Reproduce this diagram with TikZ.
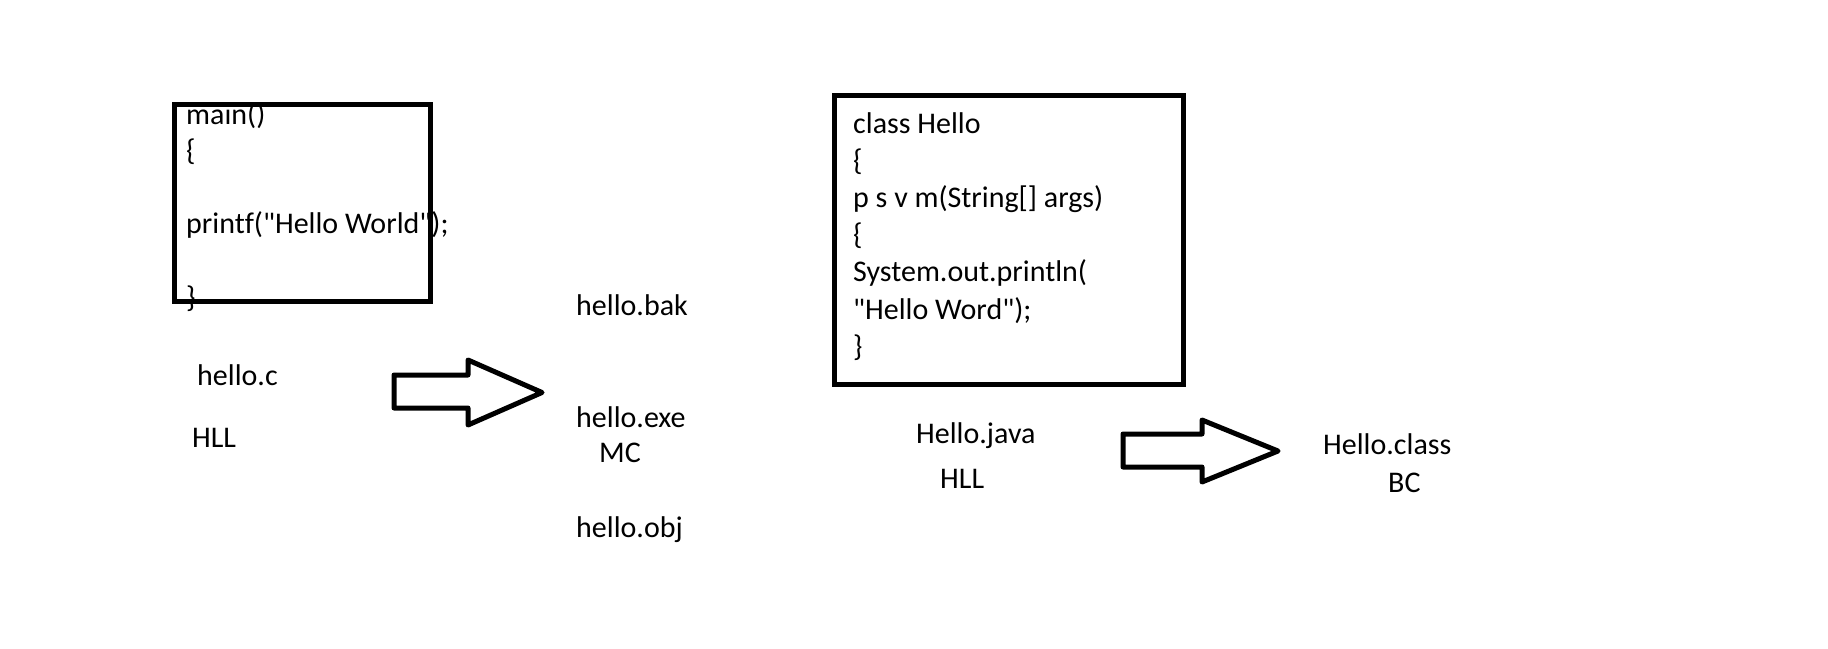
\documentclass[tikz,border=0pt]{standalone}
\usepackage{fontspec}
\setmainfont{Carlito}[Ligatures={TeXOff,CommonOff}]
\begin{document}
\begin{tikzpicture}[x=1pt,y=-1pt,
  txt/.style={anchor=base west,inner sep=0pt,font=\fontsize{30}{36}\selectfont},
  frame/.style={draw,line width=5pt,inner sep=0pt,fill=none},
  blockarrow/.style={draw,line width=5pt,line join=round}]
\useasboundingbox[fill=white] (0,0) rectangle (1828,648);
% C program text
\node[txt] (c1) at (186,124) {main()};
\node[txt] (c2) at (186,160.6) {\{};
\node[txt] (c3) at (186,233.8) {printf("Hello World");};
\node[txt] (c4) at (186,307) {\}};
\node[frame,minimum width=256pt,minimum height=197pt] (box1) at (302,202.5) {};
\node[txt] (hc) at (197,385) {hello.c};
\node[txt] (hll1) at (192,447) {HLL};
% arrow 1
\draw[blockarrow] (394,375) -- (468,375) -- (468,360) -- (542,392.5) -- (468,425) -- (468,408) -- (394,408) -- cycle;
\node[txt] (bak) at (576,315) {hello.bak};
\node[txt] (exe) at (576,427) {hello.exe};
\node[txt] (mc) at (599,462) {MC};
\node[txt] (obj) at (576,537) {hello.obj};
% Java program text
\node[txt] (j1) at (853,133) {class Hello};
\node[txt] (j2) at (853,170.2) {\{};
\node[txt] (j3) at (853,207.4) {p s v m(String[] args)};
\node[txt] (j4) at (853,244.6) {\{};
\node[txt] (j5) at (853,281.8) {System.out.println(};
\node[txt] (j6) at (853,319) {"Hello Word");};
\node[txt] (j7) at (853,356.2) {\}};
\node[frame,minimum width=349pt,minimum height=289pt] (box2) at (1008.5,239.5) {};
\node[txt] (hj) at (916,443) {Hello.java};
\node[txt] (hll2) at (940,488) {HLL};
% arrow 2
\draw[blockarrow] (1123,434) -- (1202,434) -- (1202,420) -- (1278,451) -- (1202,482) -- (1202,467) -- (1123,467) -- cycle;
\node[txt] (hcl) at (1323,454) {Hello.class};
\node[txt] (bc) at (1388,492) {BC};
\end{tikzpicture}
\end{document}
